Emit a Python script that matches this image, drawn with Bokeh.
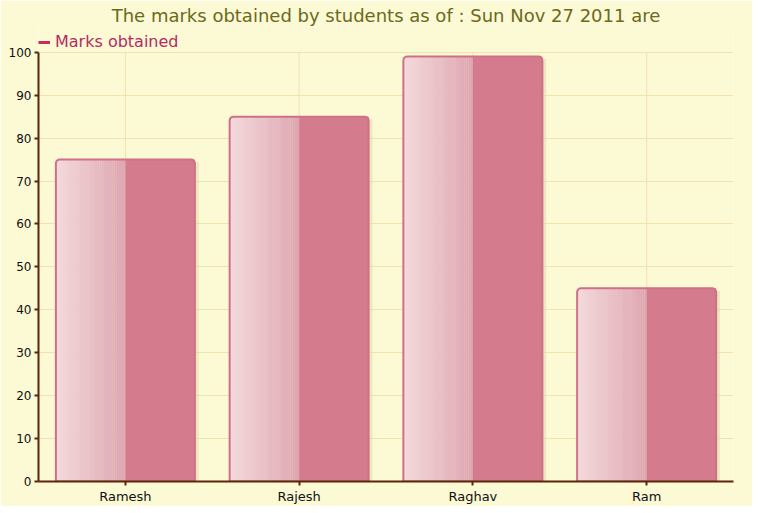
from bokeh.plotting import figure
from bokeh.models import (Range1d, FixedTicker, Legend, LegendItem)
from bokeh.embed import file_html
from bokeh.resources import INLINE

# ---- data ----
students = ["Ramesh", "Rajesh", "Raghav", "Ram"]
marks = [75, 85, 99, 45]
series_name = "Marks obtained"
title_text = "The marks obtained by students as of : Sun Nov 27 2011 are"
y_ticks = [0, 10, 20, 30, 40, 50, 60, 70, 80, 90, 100]

# ---- styling ----
BG = "#FCF9D5"
GRID = "#F1E2AE"
AXIS = "#5B2608"
BAR_DARK = "#D57B8E"
GRAD_L = (0xF4, 0xD8, 0xDC)
GRAD_R = (0xDE, 0xA6, 0xB2)
OUTLINE = "#CE7087"
BAR_W = 0.8
N_STRIPS = 32
Y_TOP = 106          # headroom above the axis so the legend fits
FRAME_H = 455

xs = list(range(len(students)))
y_max = y_ticks[-1]
nan = float("nan")

p = figure(width=752, height=506, output_backend="svg", toolbar_location=None,
           x_range=Range1d(-0.5, len(students) - 0.5), y_range=Range1d(0, Y_TOP),
           min_border_left=38, min_border_right=19, min_border_top=26, min_border_bottom=25)
p.background_fill_color = BG
p.border_fill_color = BG
p.outline_line_color = None

p.title.text = title_text
p.title.align = "center"
p.title.text_font = "DejaVu Sans"
p.title.text_font_size = "18px"
p.title.text_font_style = "normal"
p.title.text_color = "#6A6A20"
p.title.standoff = 2

# vertical grid lines at category centres (stop at the axis top)
p.segment(x0=xs, x1=xs, y0=[0] * len(xs), y1=[y_max] * len(xs),
          line_color=GRID, line_width=1)

# shadow
p.vbar(x=[x + 0.022 for x in xs], width=BAR_W, top=[m - 0.6 for m in marks], bottom=0,
       fill_color="#DCD6A6", fill_alpha=0.5, line_color=None)

# gradient left halves
sl, sr, st, sc = [], [], [], []
for x, m in zip(xs, marks):
    half = BAR_W / 2
    sw = half / N_STRIPS
    for k in range(N_STRIPS):
        t = k / (N_STRIPS - 1)
        c = tuple(int(round(a + (b - a) * t)) for a, b in zip(GRAD_L, GRAD_R))
        sl.append(x - half + k * sw)
        sr.append(x - half + (k + 1) * sw + 0.001)
        st.append(m)
        sc.append("#%02x%02x%02x" % c)
p.quad(left=sl, right=sr, top=st, bottom=[0] * len(st), fill_color=sc, line_color=None)

# right solid halves
p.quad(left=xs, right=[x + BAR_W / 2 for x in xs], top=marks, bottom=0,
       fill_color=BAR_DARK, line_color=None)

# outline with rounded top corners
p.vbar(x=xs, width=BAR_W, top=marks, bottom=0, fill_color=None,
       line_color=OUTLINE, line_width=2, border_radius=(4, 4, 0, 0))

# legend-only line renderer (a single NaN point, draws nothing in the plot)
leg_r = p.line(x=[nan], y=[nan], line_color="#CC2A5E", line_width=3)
legend = Legend(items=[LegendItem(label=series_name, renderers=[leg_r])],
                location=(0, FRAME_H - 25), orientation="horizontal",
                background_fill_alpha=0, border_line_color=None,
                label_text_font="DejaVu Sans", label_text_font_size="16px",
                label_text_color="#B22D62", glyph_width=12, glyph_height=18,
                label_standoff=5, padding=2, margin=0, spacing=0,
                label_height=18)
p.add_layout(legend)

# grids
p.xgrid.visible = False
p.ygrid.ticker = FixedTicker(ticks=y_ticks)
p.ygrid.grid_line_color = GRID
p.ygrid.grid_line_width = 1
p.ygrid.level = "image"

# axes
p.xaxis.ticker = FixedTicker(ticks=xs)
p.xaxis.major_label_overrides = {i: s for i, s in enumerate(students)}
p.yaxis.ticker = FixedTicker(ticks=y_ticks)
p.yaxis.bounds = (0, y_max)
for ax in (p.xaxis[0], p.yaxis[0]):
    ax.axis_line_color = AXIS
    ax.axis_line_width = 2
    ax.major_tick_line_color = AXIS
    ax.major_tick_line_width = 2
    ax.major_tick_out = 4
    ax.major_tick_in = 0
    ax.minor_tick_line_color = None
    ax.major_label_text_font = "DejaVu Sans"
    ax.major_label_text_color = "#111111"
    ax.major_label_standoff = 3
p.xaxis.major_label_text_font_size = "13px"
p.yaxis.major_label_text_font_size = "12px"

open("out.html", "w").write(file_html(p, INLINE))
